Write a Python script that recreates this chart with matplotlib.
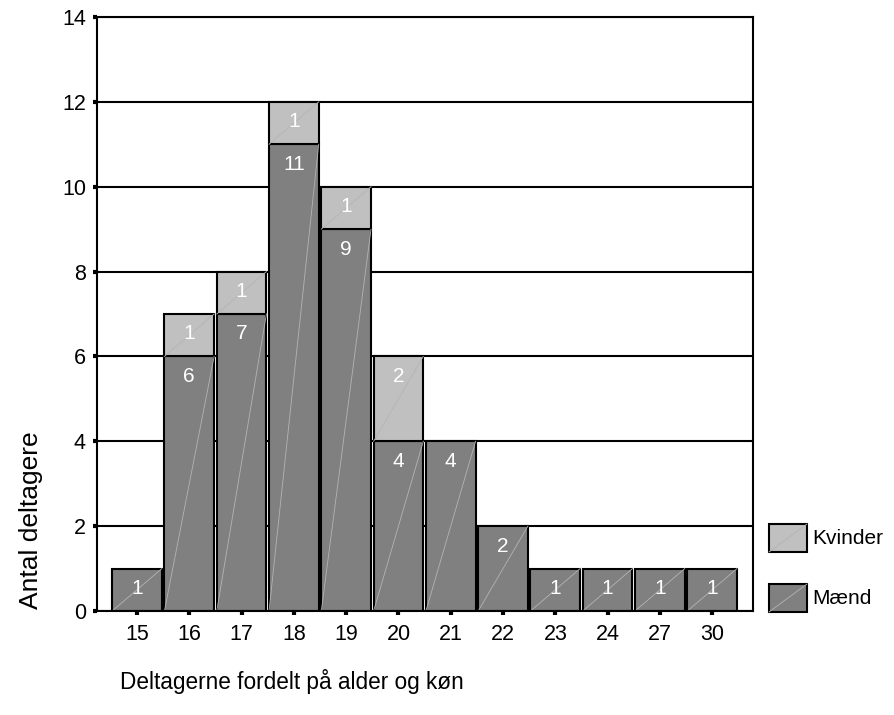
import matplotlib
matplotlib.use("Agg")
import matplotlib.pyplot as plt
from matplotlib.patches import Rectangle
from matplotlib.lines import Line2D
import numpy as np

plt.rcParams['font.family'] = ['Liberation Sans', 'DejaVu Sans']

ages = ['15', '16', '17', '18', '19', '20', '21', '22', '23', '24', '27', '30']
maend = [1, 6, 7, 11, 9, 4, 4, 2, 1, 1, 1, 1]
kvinder = [0, 1, 1, 1, 1, 2, 0, 0, 0, 0, 0, 0]
yticks = [0, 2, 4, 6, 8, 10, 12, 14]
series_names = ['Kvinder', 'Mænd']

c_maend = '#808080'
c_kvinder = '#c0c0c0'
c_diag = '#b4b4b4'

W, H = 895, 715
fig = plt.figure(figsize=(W/100, H/100), dpi=100)
ax = fig.add_axes([97/W, 1 - 611/H, (753-97)/W, (611-17)/H])

x = np.arange(len(ages))
w = 0.95

for yv in yticks:
    ax.axhline(yv, color='black', lw=1.5, zorder=1)

def seg(xi, bottom, h, color, label_val):
    ax.bar(xi, h, w, bottom=bottom, color=color, edgecolor='black', lw=1.5, zorder=2)
    ax.plot([xi - w/2, xi + w/2], [bottom, bottom + h], color=c_diag, lw=0.6, zorder=3)
    ax.text(xi, bottom + h - 0.47, str(label_val), color='white', ha='center', va='center',
            fontsize=15, zorder=4)

for i in range(len(ages)):
    if maend[i] > 0:
        seg(x[i], 0, maend[i], c_maend, maend[i])
    if kvinder[i] > 0:
        seg(x[i], maend[i], kvinder[i], c_kvinder, kvinder[i])

ax.set_xlim(-0.765, 11.78)
ax.set_ylim(0, 14)
ax.set_xticks(x)
ax.set_xticklabels(ages, fontsize=15.5)
ax.set_yticks(yticks)
ax.set_yticklabels([str(v) for v in yticks], fontsize=15.5)
ax.tick_params(axis='both', direction='out', length=3, width=3, color='black')
ax.tick_params(axis='x', pad=6)
ax.tick_params(axis='y', pad=5)
for sp in ax.spines.values():
    sp.set_linewidth(1.5)
    sp.set_zorder(5)

# legend drawn manually in pixel layout
legend_items = [(series_names[0], c_kvinder, 524), (series_names[1], c_maend, 584)]
for name, col, ytop in legend_items:
    x0, y0, pw, ph = 769/W, 1 - (ytop + 28)/H, 38/W, 28/H
    fig.add_artist(Rectangle((x0, y0), pw, ph, transform=fig.transFigure,
                             facecolor=col, edgecolor='black', lw=1.5))
    fig.add_artist(Line2D([x0, x0 + pw], [y0, y0 + ph], transform=fig.transFigure,
                          color=c_diag, lw=0.6))
    fig.text(812/W, 1 - (ytop + 14)/H, name, ha='left', va='center', fontsize=15)

fig.text(31/W, 1 - 520/H, 'Antal deltagere', rotation=90, ha='center', va='center', fontsize=19)
fig.text(120/W, 1 - 682/H, 'Deltagerne fordelt på alder og køn', ha='left', va='center', fontsize=16.3)

fig.savefig('out.png', dpi=100)
